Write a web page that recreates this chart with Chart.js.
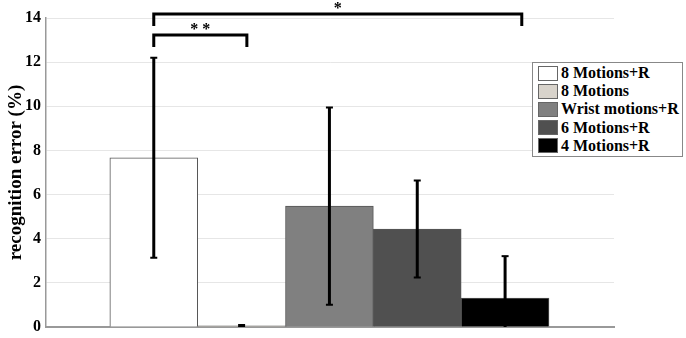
<!DOCTYPE html>
<html>
<head>
<meta charset="utf-8">
<script src="https://cdn.jsdelivr.net/npm/chart.js@4"></script>
<style>
    html, body { margin: 0; padding: 0; background: #fff; }
    #wrap { position: relative; width: 686px; height: 338px; }
    #legend {
        position: absolute; left: 532px; top: 62px; width: 151px;
        border: 1px solid #888; background: #fff; padding: 1px 0 1px 5px;
        box-sizing: border-box;
        font: bold 16px "Liberation Serif", "DejaVu Serif", serif; color: #000;
    }
    #legend div { display: flex; align-items: center; height: 18.2px; white-space: nowrap; }
    #legend span.box { width: 20px; height: 15px; border: 1px solid #666; margin-right: 3px; box-sizing: border-box; flex: none; }
</style>
</head>
<body>
<div id="wrap">
    <canvas id="chart" width="686" height="338"></canvas>
    <div id="legend"></div>
</div>
<script>
// data
const seriesLabels = ['8 Motions+R', '8 Motions', 'Wrist motions+R', '6 Motions+R', '4 Motions+R'];
const meanError = [7.67, 0.05, 5.48, 4.44, 1.31];
const sdError = [4.53, 0.04, 4.47, 2.2, 1.9];
const barColors = ['#ffffff', '#d8d3cb', '#808080', '#505050', '#000000'];

// significance brackets (x in bar units, y in %)
const sigFrom = [1, 1];
const sigTo = [2.06, 5.19];
const sigLevel = [13.23, 14.18];
const sigLabel = ['* *', '*'];

const serif = '"Liberation Serif", "DejaVu Serif", serif';

const datasets = seriesLabels.map((label, i) => ({
    label: label,
    data: [{ x: i + 1, y: meanError[i] }],
    backgroundColor: barColors[i],
    borderColor: '#555',
    borderWidth: 1,
    barPercentage: 1,
    categoryPercentage: 1,
    grouped: false
}));

// error bars + brackets
const extras = {
    id: 'extras',
    afterDatasetsDraw(chart) {
        const ctx = chart.ctx;
        const xs = chart.scales.x, ys = chart.scales.y;
        const area = chart.chartArea;
        ctx.save();
        ctx.beginPath();
        ctx.rect(area.left, 0, area.right - area.left, area.bottom);
        ctx.clip();
        ctx.strokeStyle = '#000';
        meanError.forEach((m, i) => {
            const x = xs.getPixelForValue(i + 1);
            const top = ys.getPixelForValue(m + sdError[i]);
            const bot = ys.getPixelForValue(Math.max(m - sdError[i], -0.3));
            ctx.lineWidth = 3;
            ctx.beginPath();
            ctx.moveTo(x, top);
            ctx.lineTo(x, bot);
            ctx.stroke();
            ctx.lineWidth = 2;
            ctx.beginPath();
            ctx.moveTo(x - 3.5, top); ctx.lineTo(x + 3.5, top);
            if (m - sdError[i] > 0) { ctx.moveTo(x - 3.5, bot); ctx.lineTo(x + 3.5, bot); }
            ctx.stroke();
        });
        ctx.restore();

        ctx.save();
        ctx.strokeStyle = '#000';
        ctx.fillStyle = '#000';
        ctx.lineWidth = 3;
        ctx.font = 'bold 16px ' + serif;
        ctx.textAlign = 'center';
        ctx.textBaseline = 'bottom';
        sigFrom.forEach((f, i) => {
            const x1 = xs.getPixelForValue(f);
            const x2 = xs.getPixelForValue(sigTo[i]);
            const y = ys.getPixelForValue(sigLevel[i]);
            ctx.beginPath();
            ctx.moveTo(x1, y + 12);
            ctx.lineTo(x1, y);
            ctx.lineTo(x2, y);
            ctx.lineTo(x2, y + 12);
            ctx.stroke();
            ctx.fillText(sigLabel[i], (x1 + x2) / 2, y + 3);
        });
        ctx.restore();
    }
};

new Chart(document.getElementById('chart'), {
    type: 'bar',
    data: { datasets: datasets },
    options: {
        responsive: false,
        animation: false,
        layout: { padding: { top: 18, right: 72, bottom: 11, left: 0 } },
        plugins: { legend: { display: false }, tooltip: { enabled: false } },
        scales: {
            x: {
                type: 'linear',
                offset: false,
                min: -0.227,
                max: 6.24,
                ticks: { display: false },
                grid: { display: false },
                border: { display: true, color: '#999', width: 2 },
                afterFit(scale) { scale.height = 0; }
            },
            y: {
                min: 0,
                max: 14,
                ticks: {
                    stepSize: 2,
                    color: '#000',
                    padding: 5,
                    font: { family: serif, size: 16, weight: 'bold' }
                },
                grid: { color: '#e6e6e6', lineWidth: 1, tickLength: 0 },
                border: { color: '#999', width: 1.5 },
                title: {
                    display: true,
                    text: 'recognition error (%)',
                    color: '#000',
                    padding: { top: 5, bottom: 0 },
                    font: { family: serif, size: 19, weight: 'bold' }
                },
                afterFit(scale) {
                    scale.width = 46;
                    scale.paddingTop = 0;
                    scale.paddingBottom = 0;
                }
            }
        }
    },
    plugins: [extras]
});

// legend
document.getElementById('legend').innerHTML = seriesLabels.map((label, i) =>
    `<div><span class="box" style="background:${barColors[i]}"></span>${label}</div>`
).join('');
</script>
</body>
</html>
